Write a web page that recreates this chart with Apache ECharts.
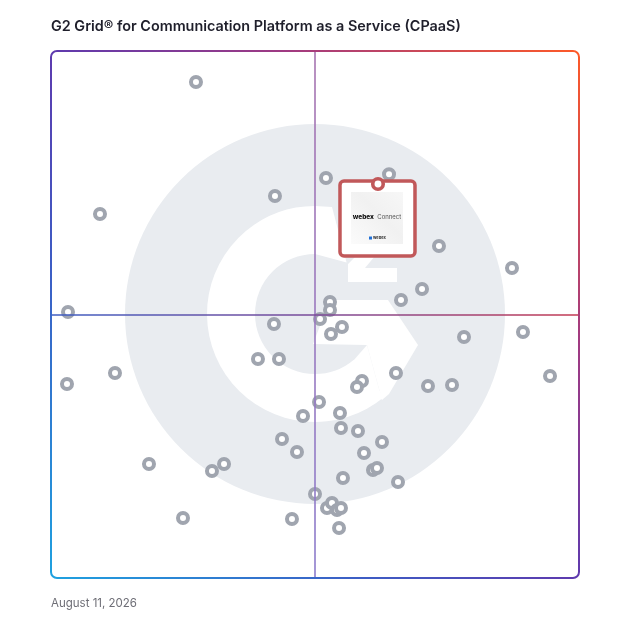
<!DOCTYPE html>
<html><head><meta charset="utf-8">
<script src="https://cdn.jsdelivr.net/npm/echarts@6/dist/echarts.min.js"></script>
<style>html,body{margin:0;padding:0;background:#fff}#c{width:628px;height:628px}</style>
</head><body><div id="c"></div>
<script>
const titleText = 'G2 Grid® for Communication Platform as a Service (CPaaS)';
const dateText = 'August 11, 2026';
// Satisfaction (x) and Market Presence (y) scores, 0-100
const productX = [27.46, 9.28, 52.08, 64.02, 42.42, 73.48, 87.31, 70.27, 66.29, 52.84,
                  52.84, 50.95, 42.23, 55.11, 53.03, 3.22, 78.22, 89.39, 39.20, 43.18,
                  65.34, 71.40, 75.95, 94.51, 3.03, 12.12, 58.90, 57.95, 50.76, 47.73,
                  54.73, 54.92, 58.14, 43.75, 62.69, 46.59, 59.28, 60.98, 61.74, 55.30,
                  65.72, 18.56, 32.77, 30.49, 25.00, 45.64, 50.00, 52.27, 53.22, 54.17,
                  54.92, 54.55];
const productY = [94.12, 69.07, 75.90, 76.61, 72.49, 63.00, 58.82, 54.84, 52.75, 52.37,
                  50.85, 49.15, 48.20, 47.63, 46.30, 50.47, 45.73, 46.68, 41.56, 41.56,
                  38.90, 36.43, 36.62, 38.33, 36.81, 38.90, 37.38, 36.24, 33.40, 30.74,
                  31.31, 28.46, 27.89, 26.38, 25.81, 23.91, 23.72, 20.49, 20.87, 18.98,
                  18.22, 21.63, 21.63, 20.30, 11.39, 11.20, 15.94, 13.28, 14.23, 12.90,
                  13.28, 9.49];
const featuredName = ['webex', 'Connect'];
const featuredX = [61.93];
const featuredY = [74.76];
const quadrantSplit = [50, 50];

const productData = productX.map((x, i) => [x, productY[i]]);
const featuredData = featuredX.map((x, i) => [x, featuredY[i]]);

const chart = echarts.init(document.getElementById('c'));
const G = echarts.graphic;
const wm = '#e9ecf0';
const cx = 315, cy = 314;
const deg = Math.PI / 180;

chart.setOption({
  animation: false,
  title: [
    {text: titleText, left: 51, top: 20, padding: 0,
     textStyle: {fontFamily: 'Inter', fontWeight: 600, fontSize: 14.4, color: '#1f1f2b'}},
    {text: dateText, left: 51, top: 598, padding: 0,
     textStyle: {fontFamily: 'Inter', fontWeight: 400, fontSize: 11.5, color: '#6e6e76'}}
  ],
  grid: {left: 51, right: 49, top: 51, bottom: 50},
  xAxis: {type: 'value', min: 0, max: 100, show: false},
  yAxis: {type: 'value', min: 0, max: 100, show: false},
  graphic: [
    {type: 'circle', z: 0, silent: true, shape: {cx: cx, cy: cy, r: 190}, style: {fill: wm}},
    {type: 'sector', z: 0, silent: true,
     shape: {cx: cx, cy: cy, r: 108, r0: 60, startAngle: 50 * deg, endAngle: 270 * deg, clockwise: true},
     style: {fill: '#fff'}},
    {type: 'polygon', z: 0, silent: true,
     shape: {points: [[315, 206], [332, 207], [346.6, 262.5], [315, 254]]}, style: {fill: '#fff'}},
    {type: 'polygon', z: 0, silent: true,
     shape: {points: [[330, 300], [388, 300], [418, 345], [389, 394], [382, 400], [367, 345], [313, 344]]},
     style: {fill: '#fff'}},
    {type: 'polygon', z: 0, silent: true,
     shape: {points: [[367, 345], [382, 400], [353, 361]]}, style: {fill: '#fff'}},
    {type: 'polygon', z: 0, silent: true,
     shape: {points: [[348, 282], [397, 282], [397, 268], [365, 268], [380, 250], [362, 250], [348, 264]]},
     style: {fill: '#fff'}},
    {type: 'rect', z: 10, silent: true,
     shape: {x: 51, y: 51, width: 528, height: 527, r: 6},
     style: {fill: 'none', lineWidth: 2,
       stroke: new G.LinearGradient(0, 1, 1, 0, [
         {offset: 0, color: '#1ea2e0'}, {offset: 0.3, color: '#3d5cc4'},
         {offset: 0.5, color: '#5e3aae'}, {offset: 0.72, color: '#a03a82'},
         {offset: 1, color: '#ff5a26'}])}}
  ],
  series: [
    {
      type: 'scatter', z: 1, data: [], silent: true,
      markLine: {
        silent: true, symbol: 'none', label: {show: false}, animation: false,
        data: [
          {xAxis: quadrantSplit[0], lineStyle: {type: 'solid', width: 1.6,
            color: new G.LinearGradient(0, 0, 0, 1, [{offset: 0, color: '#a774b0'}, {offset: 1, color: '#8c7ccc'}])}},
          {yAxis: quadrantSplit[1], lineStyle: {type: 'solid', width: 1.6,
            color: new G.LinearGradient(0, 0, 1, 0, [{offset: 0, color: '#3e5ec2'}, {offset: 0.5, color: '#7a4a98'}, {offset: 1, color: '#c43a52'}])}}
        ]
      }
    },
    {
      type: 'scatter', z: 2, data: productData, silent: true,
      symbol: 'circle', symbolSize: 10,
      itemStyle: {color: '#fff', borderColor: '#a0a5af', borderWidth: 4, opacity: 1}
    },
    {
      type: 'custom', z: 3, data: featuredData, silent: true,
      renderItem: function (params, api) {
        const p = api.coord([api.value(0), api.value(1)]);
        const x = p[0], y = p[1];
        return {
          type: 'group',
          children: [
            {type: 'rect', shape: {x: x - 38, y: y - 3, width: 75, height: 75, r: 4},
             style: {fill: '#fff', stroke: '#c1585a', lineWidth: 3.5}},
            {type: 'rect', shape: {x: x - 27, y: y + 8, width: 52, height: 52},
             style: {fill: new G.LinearGradient(1, 0, 0, 1, [
               {offset: 0, color: '#f7f7f7'}, {offset: 0.45, color: '#f1f1f1'}, {offset: 1, color: '#fbfbfb'}])}},
            {type: 'text', style: {x: x - 1, y: y + 33, align: 'center', verticalAlign: 'middle',
              text: '{a|' + featuredName[0] + '} {b|' + featuredName[1] + '}',
              rich: {a: {fontFamily: 'Inter', fontWeight: 800, fontSize: 6.5, fill: '#111'},
                     b: {fontFamily: 'Inter', fontWeight: 400, fontSize: 6, fill: '#555'}}}},
            {type: 'rect', shape: {x: x - 9, y: y + 52.5, width: 3, height: 3},
             style: {fill: '#1f6fd6'}},
            {type: 'text', style: {x: x - 5, y: y + 54, align: 'left', verticalAlign: 'middle',
              text: featuredName[0], fontFamily: 'Inter', fontWeight: 700, fontSize: 4, fill: '#333'}}
          ]
        };
      }
    },
    {
      type: 'scatter', z: 5, data: featuredData, silent: true,
      symbol: 'circle', symbolSize: 10.5,
      itemStyle: {color: '#fff', borderColor: '#c1585a', borderWidth: 3.6, opacity: 1}
    }
  ]
});
</script>
</body></html>
